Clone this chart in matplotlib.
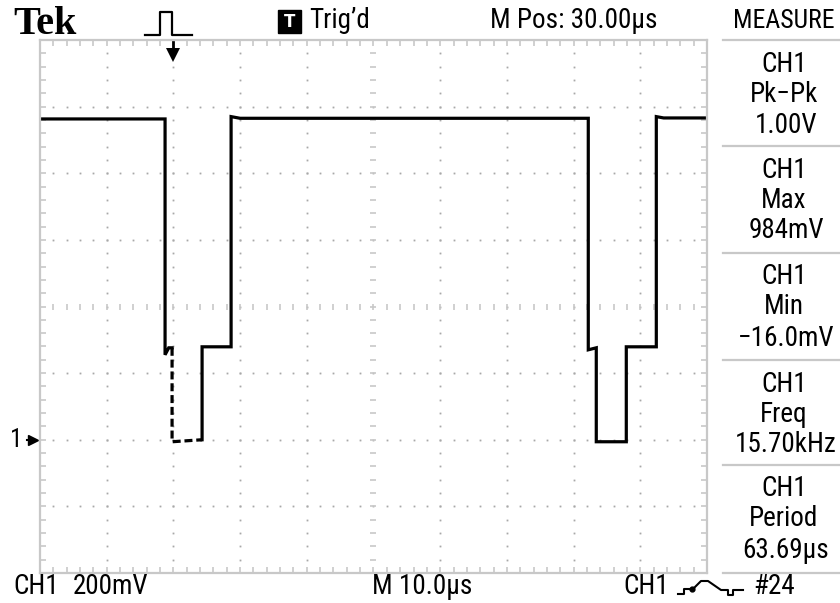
import numpy as np
import matplotlib
matplotlib.use('Agg')
import matplotlib.pyplot as plt
import matplotlib.transforms as mtransforms
from matplotlib.lines import Line2D
from matplotlib.patches import Rectangle

# scope settings
volts_per_div = 0.2
time_per_div = 10.0      # µs
trigger_t = 20.0         # µs from left edge of screen
ground_v = 0.0

# trace, solid parts (t in µs, v in volts)
trace1_t = [0.0, 18.75, 18.75, 19.3, 19.8]
trace1_v = [0.963, 0.963, 0.255, 0.276, 0.276]
# sparse (dashed) part of the first pulse
trace2_t = [19.8, 19.8, 24.3]
trace2_v = [0.276, -0.006, 0.0]
trace3_t = [24.3, 24.3, 28.65, 28.65, 30.0, 82.2, 82.2, 83.4, 83.4, 87.9, 87.9, 92.4, 92.4, 93.5, 99.75]
trace3_v = [0.0, 0.279, 0.279, 0.97, 0.965, 0.965, 0.27, 0.276, -0.006, -0.006, 0.279, 0.279, 0.97, 0.966, 0.966]

# measurement panel
meas_names = ['Pk\u2212Pk', 'Max', 'Min', 'Freq', 'Period']
meas_values = ['1.00V', '984mV', '\u221216.0mV', '15.70kHz', '63.69\u00b5s']

W, H = 840, 603
grey = '#c8c8c8'
dotc = '#a8a8a8'
font = dict(family=['Roboto Condensed', 'Liberation Sans Narrow', 'Liberation Sans', 'DejaVu Sans'],
            fontsize=19.5, color='black')


def fx(x):
    return x / W


def fy(y):
    return 1 - y / H


fig = plt.figure(figsize=(8.4, 6.03), dpi=100)
fig.patch.set_facecolor('white')

ax = fig.add_axes([fx(40), fy(573), 667 / W, 533 / H])
ax.set_xlim(0, 10 * time_per_div)
ax.set_ylim(-2 * volts_per_div, 6 * volts_per_div)
for s in ax.spines.values():
    s.set_color(grey)
    s.set_linewidth(1.6)
ax.set_xticks(np.arange(0, 100.01, time_per_div / 5))
ax.set_yticks(np.arange(-0.4, 1.2001, volts_per_div / 5))
ax.tick_params(direction='in', length=4, width=1.2, color=grey,
               top=True, right=True, labelbottom=False, labelleft=False)

# graticule dots
xc, yc = 50.0, 0.4
minor_t = np.arange(2, 100, 2.0)
minor_v = np.arange(-0.36, 1.2, 0.04)
for xm in np.arange(10, 100, 10):
    if abs(xm - xc) < 1e-6:
        continue
    ax.plot(np.full(len(minor_v), xm), minor_v, 's', ms=1.3, color=dotc, mew=0)
for ym in np.arange(-0.2, 1.2, 0.2):
    if abs(ym - yc) < 1e-6:
        continue
    ax.plot(minor_t, np.full(len(minor_t), ym), 's', ms=1.3, color=dotc, mew=0)
# center cross with tick dashes
ax.plot(minor_t, np.full(len(minor_t), yc), '|', ms=5, mew=1.2, color=grey)
ax.plot(np.full(len(minor_v), xc), minor_v, '_', ms=5, mew=1.2, color=grey)

# trace
ax.plot(trace1_t, trace1_v, color='black', lw=2.3, solid_joinstyle='miter')
ax.plot(trace2_t, trace2_v, color='black', lw=2.3, linestyle=(0, (2.5, 1.2)))
ax.plot(trace3_t, trace3_v, color='black', lw=2.3, solid_joinstyle='miter')

# ground marker "1->"
gtr = mtransforms.blended_transform_factory(ax.transAxes, ax.transData)
ax.plot([-0.011], [ground_v], marker='>', ms=7, color='black', transform=gtr, clip_on=False)
ax.plot([-0.02, -0.011], [ground_v, ground_v], color='black', lw=1.5, transform=gtr, clip_on=False)
ax.text(-0.036, ground_v, '1', transform=gtr, ha='center', va='center', **{**font, 'fontsize': 18})

# trigger position arrow
ttr = mtransforms.blended_transform_factory(ax.transData, ax.transAxes)
ax.plot([trigger_t, trigger_t], [0.996, 0.978], color='black', lw=2, transform=ttr, clip_on=False)
ax.plot([trigger_t], [0.972], marker='v', ms=10, color='black', mew=0, transform=ttr, clip_on=False)

# header
fig.text(fx(13), fy(24), 'Tek', family=['Liberation Serif', 'DejaVu Serif'],
         fontweight='bold', fontsize=29, va='center', ha='left')
pulse = [(145, 35), (160, 35), (160, 12), (172, 12), (172, 35), (192, 35)]
fig.add_artist(Line2D([fx(p[0]) for p in pulse], [fy(p[1]) for p in pulse],
                      color='black', lw=1.6, transform=fig.transFigure))
fig.add_artist(Rectangle((fx(278), fy(33)), 23 / W, 23 / H, color='black',
                         transform=fig.transFigure))
fig.text(fx(289.5), fy(22), 'T', color='white', fontweight='bold', fontsize=12,
         ha='center', va='center', family='DejaVu Sans')
fig.text(fx(309), fy(21), 'Trig\u2019d', ha='left', va='center', **font)
fig.text(fx(574), fy(21), 'M Pos: 30.00\u00b5s', ha='center', va='center', **font)

# measure panel
cx = 784
fig.text(fx(cx), fy(21), 'MEASURE', ha='center', va='center', **{**font, 'fontsize': 18.5})
sep = [40, 146, 253, 360, 465, 573]
for ys in sep:
    fig.add_artist(Line2D([fx(723), 1.0], [fy(ys), fy(ys)], color=grey, lw=1.6,
                          transform=fig.transFigure))
for i, (name, val) in enumerate(zip(meas_names, meas_values)):
    top = sep[i]
    fig.text(fx(cx), fy(top + 24), 'CH1', ha='center', va='center', **font)
    fig.text(fx(cx), fy(top + 54), name, ha='center', va='center', **font)
    fig.text(fx(cx + 2), fy(top + 85), val, ha='center', va='center', **font)

# footer
fig.text(fx(13), fy(587), 'CH1', ha='left', va='center', **font)
fig.text(fx(73), fy(587), '200mV', ha='left', va='center', **font)
fig.text(fx(422), fy(587), 'M 10.0\u00b5s', ha='center', va='center', **font)
fig.text(fx(623), fy(587), 'CH1', ha='left', va='center', **font)
sym = [(678, 594), (684, 594), (684, 589), (693, 589), (701, 581),
       (708, 581), (721, 590), (728, 590), (728, 595), (733, 595), (733, 590), (743, 590)]
fig.add_artist(Line2D([fx(p[0]) for p in sym], [fy(p[1]) for p in sym],
                      color='black', lw=1.5, transform=fig.transFigure))
fig.add_artist(Line2D([fx(692)], [fy(589)], marker='o', ms=3.5, color='black',
                      transform=fig.transFigure))
fig.text(fx(753), fy(587), '#24', ha='left', va='center', **font)

fig.savefig('out.png', dpi=100)
